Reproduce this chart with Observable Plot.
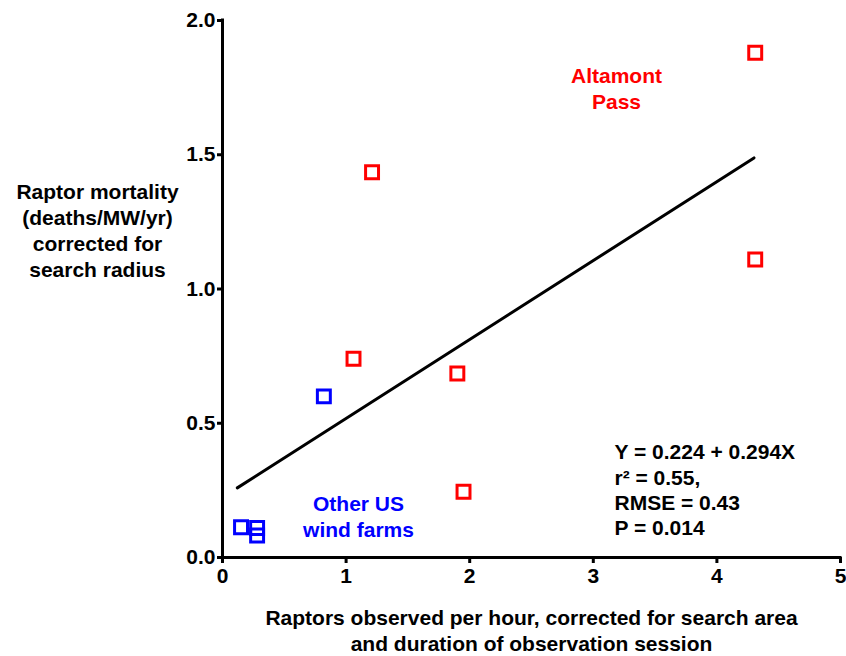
<!DOCTYPE html>
<html>
<head>
<meta charset="utf-8">
<script src="https://cdn.jsdelivr.net/npm/d3@7"></script>
<script src="https://cdn.jsdelivr.net/npm/@observablehq/plot@0.6"></script>
<style>
  html, body { margin: 0; padding: 0; background: #fff; }
  svg { display: block; }
</style>
</head>
<body>
<div id="chart"></div>
<script>
// Data
const altamontX = [4.31, 1.21, 4.31, 1.06, 1.90, 1.95];
const altamontY = [1.88, 1.435, 1.11, 0.74, 0.685, 0.245];
const otherX = [0.82, 0.15, 0.28, 0.28];
const otherY = [0.60, 0.113, 0.110, 0.082];
const fitIntercept = 0.224;
const fitSlope = 0.294;
const fitRangeX = [0.12, 4.30];
const xTicks = [0, 1, 2, 3, 4, 5];
const yTicks = [0, 0.5, 1.0, 1.5, 2.0];
const yTitle = "Raptor mortality\n(deaths/MW/yr)\ncorrected for\nsearch radius";
const xTitle = "Raptors observed per hour, corrected for search area\nand duration of observation session";
const altamontLabel = "Altamont\nPass";
const otherLabel = "Other US\nwind farms";
const statsLabel = "Y = 0.224 + 0.294X\nr² = 0.55,\nRMSE = 0.43\nP = 0.014";

const altamont = altamontX.map((x, i) => ({x, y: altamontY[i]}));
const other = otherX.map((x, i) => ({x, y: otherY[i]}));
const fit = fitRangeX.map(x => ({x, y: fitIntercept + fitSlope * x}));

const font = "'Liberation Sans', Arial, sans-serif";
const FS = 21;
const L = 222, T = 20; // frame left / top
const OFF = 10; // offset from first-line centre to block top

const chart = Plot.plot({
  width: 846,
  height: 656,
  marginLeft: 222,
  marginRight: 6,
  marginTop: 20,
  marginBottom: 99,
  style: {fontFamily: font, fontWeight: "bold", fontSize: FS + "px", color: "#000", background: "#fff"},
  x: {domain: [0, 5], range: [222, 840]},
  y: {domain: [0, 2], range: [557, 20]},
  marks: [
    Plot.axisX({ticks: xTicks, tickSize: 6, strokeWidth: 3, tickPadding: 5, label: null, tickFormat: d3.format("d"), fontWeight: "bold", fontSize: FS}),
    Plot.axisY({ticks: yTicks, tickSize: 5, strokeWidth: 3, tickPadding: 2, label: null, tickFormat: d3.format(".1f"), fontWeight: "bold", fontSize: FS}),
    Plot.ruleY([0], {x1: 0, x2: 5, stroke: "black", strokeWidth: 3, strokeLinecap: "square"}),
    Plot.ruleX([0], {y1: 0, y2: 2, stroke: "black", strokeWidth: 3, strokeLinecap: "square"}),
    Plot.line(fit, {x: "x", y: "y", stroke: "black", strokeWidth: 3}),
    Plot.dot(altamont, {x: "x", y: "y", symbol: "square", r: 7.3, stroke: "#ff0000", strokeWidth: 3, fill: "none"}),
    Plot.dot(other, {x: "x", y: "y", symbol: "square", r: 7.3, stroke: "#0000ff", strokeWidth: 3, fill: "none"}),
    Plot.text([altamontLabel], {frameAnchor: "top-left", lineAnchor: "top", dx: 616 - L, dy: 75 - OFF - T, text: d => d, fill: "#ff0000", fontSize: FS, fontWeight: "bold", lineHeight: 1.2, textAnchor: "middle"}),
    Plot.text([otherLabel], {frameAnchor: "top-left", lineAnchor: "top", dx: 358 - L, dy: 503 - OFF - T, text: d => d, fill: "#0000ff", fontSize: FS, fontWeight: "bold", lineHeight: 1.2, textAnchor: "middle"}),
    Plot.text([statsLabel], {frameAnchor: "top-left", lineAnchor: "top", dx: 614 - L, dy: 451 - OFF - T, text: d => d, fill: "black", fontSize: FS, fontWeight: "bold", lineHeight: 1.2, textAnchor: "start"}),
    Plot.text([yTitle], {frameAnchor: "top-left", lineAnchor: "top", dx: 97 - L, dy: 190 - OFF - T, text: d => d, fill: "black", fontSize: FS, fontWeight: "bold", lineHeight: 1.24, textAnchor: "middle"}),
    Plot.text([xTitle], {frameAnchor: "top-left", lineAnchor: "top", dx: 531 - L, dy: 617 - OFF - T, text: d => d, fill: "black", fontSize: FS, fontWeight: "bold", lineHeight: 1.2, textAnchor: "middle"})
  ]
});
document.getElementById("chart").appendChild(chart);
</script>
</body>
</html>
